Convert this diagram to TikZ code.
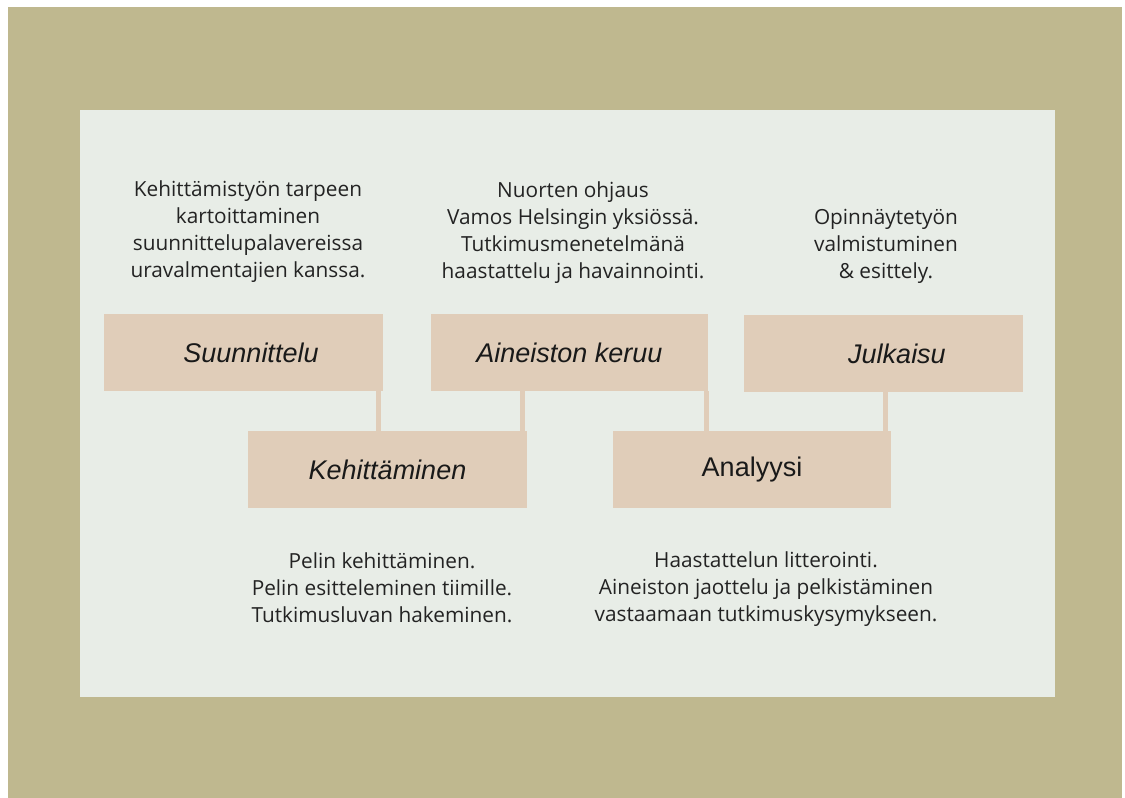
\documentclass[tikz,border=0pt]{standalone}
\usepackage{fontspec}
\setmainfont{Open Sans}
\newfontfamily\labelfont{Liberation Sans}
\usepackage{xcolor}
\usetikzlibrary{positioning}
\definecolor{frame}{RGB}{191,184,143}
\definecolor{panel}{RGB}{232,237,231}
\definecolor{boxfill}{RGB}{224,205,185}
\definecolor{ink}{RGB}{35,35,35}

\begin{document}
\begin{tikzpicture}[
    x=1pt, y=-1pt,
    phase/.style={fill=boxfill, minimum width=279pt, minimum height=77pt, inner sep=0pt, text=black!90, font=\labelfont\fontsize{27}{32}\selectfont\itshape},
    note/.style={align=center, inner sep=0pt, text=ink, font=\fontsize{20.8}{27}\selectfont},
    link/.style={draw=boxfill, line width=5pt}
]
\useasboundingbox (0,0) rectangle (1125,798);
\fill[white] (0,0) rectangle (1125,798);
\fill[frame] (8,7) rectangle (1122,798);
\fill[panel] (80,110) rectangle (1055,697);

\node[phase] (suun) at (243.5,352.5) {\hspace*{15pt}Suunnittelu};
\node[phase, minimum width=277pt] (aine) at (569.5,352.5) {Aineiston keruu};
\node[phase] (julk) at (883.5,353.5) {\hspace*{27pt}Julkaisu};
\node[phase] (kehi) at (387.5,469.5) {Kehittäminen};
\node[phase, minimum width=278pt] (anal) at (752,469.5) {\upshape Analyysi};

\node[note] (suuntxt) at (248,232) {Kehittämistyön tarpeen\\kartoittaminen\\suunnittelupalavereissa\\uravalmentajien kanssa.};
\node[note] (ainetxt) at (573,232.5) {Nuorten ohjaus\\Vamos Helsingin yksiössä.\\Tutkimusmenetelmänä\\haastattelu ja havainnointi.};
\node[note] (julktxt) at (886,246.5) {Opinnäytetyön\\valmistuminen\\\& esittely.};
\node[note] (kehitxt) at (382,587.5) {Pelin kehittäminen.\\Pelin esitteleminen tiimille.\\Tutkimusluvan hakeminen.};
\node[note] (analtxt) at (766,589.5) {Haastattelun litterointi.\\Aineiston jaottelu ja pelkistäminen\\vastaamaan tutkimuskysymykseen.};

\draw[link] ([xshift=-5pt]suun.south east) -- ([xshift=-5pt]suun.south east |- kehi.north);
\draw[link] ([xshift=-5pt]kehi.north east) -- ([xshift=-5pt]kehi.north east |- aine.south);
\draw[link] ([xshift=-2pt]aine.south east) -- ([xshift=-2pt]aine.south east |- anal.north);
\draw[link] ([xshift=-6pt]anal.north east) -- ([xshift=-6pt]anal.north east |- julk.south);
\end{tikzpicture}
\end{document}
